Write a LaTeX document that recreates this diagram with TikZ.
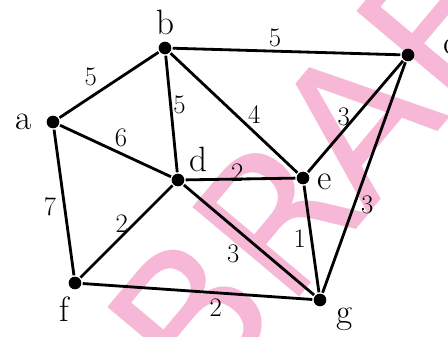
\documentclass[tikz,border=0pt]{standalone}
\usepackage{fontspec}
\newfontfamily\wmfont{DejaVu Sans}
\usetikzlibrary{positioning}
\definecolor{draftpink}{RGB}{247,183,214}
\tikzset{
  vertex/.style={circle,fill=black,inner sep=0pt,minimum size=9pt},
  weight/.style={font=\fontsize{19}{19}\selectfont,inner sep=2pt},
  vname/.style={font=\fontsize{25}{25}\selectfont,inner sep=1pt}
}

\begin{document}
\begin{tikzpicture}[x=0.025cm,y=-0.025cm,line width=2pt]
    \useasboundingbox (0,0) rectangle (448,336);
    % watermark
    \node[text=draftpink,rotate=50,anchor=base west,inner sep=0pt,
          font=\wmfont\fontsize{136}{136}\selectfont] (mark) at (202,413) {BRAFT};
    % vertices
    \node[vertex] (a) at (53,122) {};
    \node[vertex] (b) at (165,48) {};
    \node[vertex] (c) at (408,55) {};
    \node[vertex] (d) at (178,180) {};
    \node[vertex] (e) at (303,178) {};
    \node[vertex] (f) at (75,283) {};
    \node[vertex] (g) at (320,300) {};
    \node[vname,left=8pt of a] (la) {a};
    \node[vname,above=2pt of b] (lb) {b};
    \node[vname,right=18pt of c,yshift=6pt] (lc) {c};
    \node[vname,above right=0pt and 2pt of d] (ld) {d};
    \node[vname,right=3pt of e,yshift=-3pt] (le) {e};
    \node[vname,below left=4pt and -2pt of f] (lf) {f};
    \node[vname,below right=0pt and 6pt of g] (lg) {g};
    % edges
    \draw (a) -- node[weight,pos=.42,above left] {5} (b);
    \draw (b) -- node[weight,pos=.45,above] {5} (c);
    \draw (b) -- node[weight,pos=.42,right,inner sep=1pt] {5} (d);
    \draw (b) -- node[weight,pos=.6,above right,inner sep=0pt] {4} (e);
    \draw (a) -- node[weight,pos=.55,above,inner sep=4pt] {6} (d);
    \draw (c) -- node[weight,pos=.5,left,inner sep=3pt] {3} (e);
    \draw (c) -- node[weight,pos=.62,right,inner sep=4pt] {3} (g);
    \draw (d) -- node[weight,pos=.47,above,inner sep=0pt,yshift=-3pt] {2} (e);
    \draw (e) -- node[weight,pos=.5,left,inner sep=3pt] {1} (g);
    \draw (d) -- node[weight,pos=.5,above left,inner sep=-2pt] {2} (f);
    \draw (d) -- node[weight,pos=.48,below left,inner sep=4pt] {3} (g);
    \draw (a) -- node[weight,pos=.53,left,inner sep=5pt] {7} (f);
    \draw (f) -- node[weight,pos=.58,below,inner sep=3pt] {2} (g);
\end{tikzpicture}
\end{document}
